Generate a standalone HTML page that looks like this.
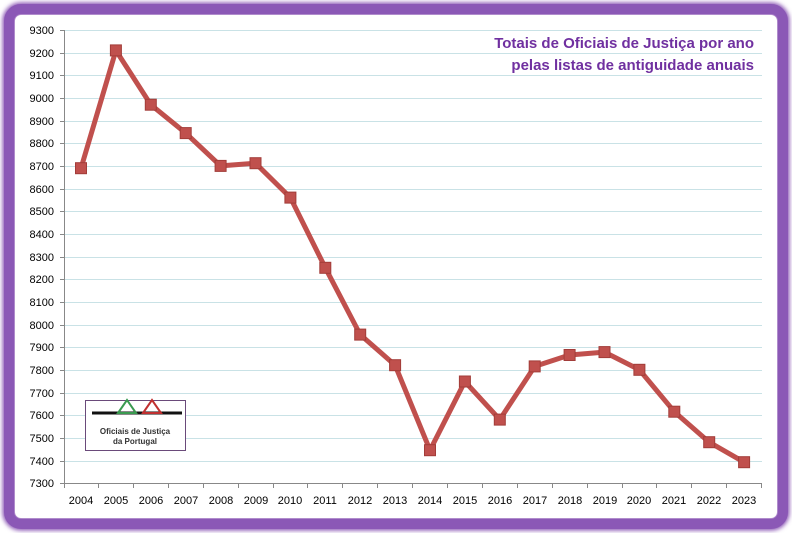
<!DOCTYPE html>
<html><head><meta charset="utf-8"><style>
html,body{margin:0;padding:0;background:#fff;}
svg{display:block;font-family:"Liberation Sans",sans-serif;}
</style></head><body>
<svg width="792" height="533" viewBox="0 0 792 533">
<defs><filter id="g" x="-5%" y="-5%" width="110%" height="110%"><feGaussianBlur stdDeviation="2"/></filter></defs>
<rect x="9" y="9" width="774" height="515" rx="12" fill="none" stroke="#8a55b4" stroke-width="13" filter="url(#g)"/>
<rect x="9" y="9" width="774" height="515" rx="12" fill="none" stroke="#8b58b6" stroke-width="10"/>
<rect x="15" y="15" width="762" height="503" rx="6" fill="#fff"/>
<g stroke="#c9e2e6" stroke-width="1">
<line x1="64" x2="762" y1="30.5" y2="30.5"/><line x1="64" x2="762" y1="53.5" y2="53.5"/><line x1="64" x2="762" y1="75.5" y2="75.5"/><line x1="64" x2="762" y1="98.5" y2="98.5"/><line x1="64" x2="762" y1="121.5" y2="121.5"/><line x1="64" x2="762" y1="143.5" y2="143.5"/><line x1="64" x2="762" y1="166.5" y2="166.5"/><line x1="64" x2="762" y1="189.5" y2="189.5"/><line x1="64" x2="762" y1="211.5" y2="211.5"/><line x1="64" x2="762" y1="234.5" y2="234.5"/><line x1="64" x2="762" y1="257.5" y2="257.5"/><line x1="64" x2="762" y1="279.5" y2="279.5"/><line x1="64" x2="762" y1="302.5" y2="302.5"/><line x1="64" x2="762" y1="325.5" y2="325.5"/><line x1="64" x2="762" y1="347.5" y2="347.5"/><line x1="64" x2="762" y1="370.5" y2="370.5"/><line x1="64" x2="762" y1="393.5" y2="393.5"/><line x1="64" x2="762" y1="415.5" y2="415.5"/><line x1="64" x2="762" y1="438.5" y2="438.5"/><line x1="64" x2="762" y1="461.5" y2="461.5"/>
</g>
<g stroke="#888" stroke-width="1">
<line x1="64.5" y1="30" x2="64.5" y2="483"/><line x1="64" y1="483.5" x2="762" y2="483.5"/>
<path d="M98.5 483v5M133.5 483v5M168.5 483v5M203.5 483v5M238.5 483v5M273.5 483v5M307.5 483v5M342.5 483v5M377.5 483v5M412.5 483v5M447.5 483v5M482.5 483v5M517.5 483v5M552.5 483v5M587.5 483v5M622.5 483v5M656.5 483v5M691.5 483v5M726.5 483v5M761.5 483v5M64.5 483v5"/>
<path d="M60 30.5h4M60 53.5h4M60 75.5h4M60 98.5h4M60 121.5h4M60 143.5h4M60 166.5h4M60 189.5h4M60 211.5h4M60 234.5h4M60 257.5h4M60 279.5h4M60 302.5h4M60 325.5h4M60 347.5h4M60 370.5h4M60 393.5h4M60 415.5h4M60 438.5h4M60 461.5h4M60 483.5h4"/>
</g>
<g fill="#000" font-size="11" text-anchor="end">
<text x="54" y="34">9300</text><text x="54" y="57">9200</text><text x="54" y="79">9100</text><text x="54" y="102">9000</text><text x="54" y="125">8900</text><text x="54" y="147">8800</text><text x="54" y="170">8700</text><text x="54" y="193">8600</text><text x="54" y="215">8500</text><text x="54" y="238">8400</text><text x="54" y="261">8300</text><text x="54" y="283">8200</text><text x="54" y="306">8100</text><text x="54" y="329">8000</text><text x="54" y="351">7900</text><text x="54" y="374">7800</text><text x="54" y="397">7700</text><text x="54" y="419">7600</text><text x="54" y="442">7500</text><text x="54" y="465">7400</text><text x="54" y="487">7300</text>
</g>
<g fill="#000" font-size="11" text-anchor="middle">
<text x="81" y="504">2004</text><text x="116" y="504">2005</text><text x="151" y="504">2006</text><text x="186" y="504">2007</text><text x="221" y="504">2008</text><text x="256" y="504">2009</text><text x="290" y="504">2010</text><text x="325" y="504">2011</text><text x="360" y="504">2012</text><text x="395" y="504">2013</text><text x="430" y="504">2014</text><text x="465" y="504">2015</text><text x="500" y="504">2016</text><text x="535" y="504">2017</text><text x="570" y="504">2018</text><text x="605" y="504">2019</text><text x="639" y="504">2020</text><text x="674" y="504">2021</text><text x="709" y="504">2022</text><text x="744" y="504">2023</text>
</g>
<g font-size="15" font-weight="bold" fill="#7030a0" text-anchor="end">
<text x="754" y="48">Totais de Oficiais de Justiça por ano</text>
<text x="754" y="70">pelas listas de antiguidade anuais</text>
</g>
<rect x="85.5" y="400.5" width="100" height="50" fill="#fff" stroke="#6a4a7a"/>
<line x1="92" y1="413" x2="182" y2="413" stroke="#111" stroke-width="3"/>
<polygon points="118,413 127,400 136,413" fill="none" stroke="#3a9a50" stroke-width="2"/>
<polygon points="143,413 152,400 161,413" fill="none" stroke="#c03030" stroke-width="2"/>
<text x="135" y="434" font-size="8" font-weight="bold" fill="#333" text-anchor="middle">Oficiais de Justiça</text>
<text x="135" y="444" font-size="8" font-weight="bold" fill="#333" text-anchor="middle">da Portugal</text>
<polyline fill="none" stroke="#c0504d" stroke-width="5" stroke-linejoin="round" points="81,168.2 115.9,50.4 150.8,104.7 185.7,133.1 220.6,165.9 255.5,163.2 290.4,197.6 325.3,267.8 360.2,334.6 395.1,365.2 430,450.2 464.9,381.5 499.8,419.6 534.7,366.4 569.6,355 604.5,352.1 639.4,369.8 674.3,411.7 709.2,442.2 744.1,462.2"/>
<g fill="#c0504d" stroke="#a23c39" stroke-width="1">
<rect x="75.5" y="162.7" width="11" height="11"/><rect x="110.4" y="44.9" width="11" height="11"/><rect x="145.3" y="99.2" width="11" height="11"/><rect x="180.2" y="127.6" width="11" height="11"/><rect x="215.1" y="160.4" width="11" height="11"/><rect x="250" y="157.7" width="11" height="11"/><rect x="284.9" y="192.1" width="11" height="11"/><rect x="319.8" y="262.3" width="11" height="11"/><rect x="354.7" y="329.1" width="11" height="11"/><rect x="389.6" y="359.7" width="11" height="11"/><rect x="424.5" y="444.7" width="11" height="11"/><rect x="459.4" y="376" width="11" height="11"/><rect x="494.3" y="414.1" width="11" height="11"/><rect x="529.2" y="360.9" width="11" height="11"/><rect x="564.1" y="349.5" width="11" height="11"/><rect x="599" y="346.6" width="11" height="11"/><rect x="633.9" y="364.3" width="11" height="11"/><rect x="668.8" y="406.2" width="11" height="11"/><rect x="703.7" y="436.7" width="11" height="11"/><rect x="738.6" y="456.7" width="11" height="11"/>
</g>
</svg>
</body></html>
